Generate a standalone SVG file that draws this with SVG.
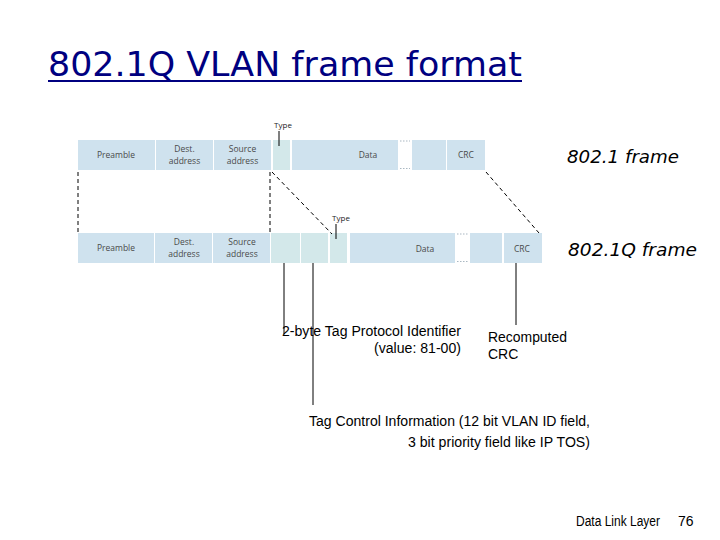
<svg xmlns="http://www.w3.org/2000/svg" width="720" height="540" viewBox="0 0 720 540">
<style>
.f{fill:#cfe2ee}
.g{fill:#d3e8ea}
.lb{font-family:"Open Sans","DejaVu Sans",sans-serif;font-size:8.5px;fill:#4a4a4a;text-anchor:middle}
.t{font-family:"Liberation Sans",Arial,sans-serif;font-size:14px;fill:#000}
.dash{stroke:#000;stroke-width:1;stroke-dasharray:4,3;fill:none}
.dot{stroke:#aab8c2;stroke-width:1.2;stroke-dasharray:1.5,1.5}
.ln{stroke:#000;stroke-width:1}
.fr{font-family:"DejaVu Sans",sans-serif;font-style:italic;font-size:17px;fill:#000}
</style>
<rect width="720" height="540" fill="#fff"/>
<g id="title">
<text x="48" y="76" font-family="'DejaVu Sans',sans-serif" font-size="33" fill="#000080" textLength="474" lengthAdjust="spacingAndGlyphs">802.1Q VLAN frame format</text>
<line x1="48" y1="81" x2="522" y2="81" stroke="#000080" stroke-width="2"/>
</g>
<g id="frame8021">
<rect class="f" x="78" y="140" width="77" height="30"/>
<text class="lb" x="116" y="158">Preamble</text>
<rect class="f" x="156" y="140" width="57" height="30"/>
<text class="lb" x="184.5" y="152">Dest.</text><text class="lb" x="184.5" y="164">address</text>
<rect class="f" x="214" y="140" width="57" height="30"/>
<text class="lb" x="242.5" y="152">Source</text><text class="lb" x="242.5" y="164">address</text>
<rect class="g" x="273" y="140" width="17" height="30"/>
<rect class="f" x="292" y="140" width="106" height="30"/>
<text class="lb" x="368" y="158">Data</text>
<line class="dot" x1="400" y1="141" x2="410" y2="141"/>
<line class="dot" x1="400" y1="168.5" x2="410" y2="168.5"/>
<rect class="f" x="412" y="140" width="34" height="30"/>
<rect class="f" x="447" y="140" width="38" height="30"/>
<text class="lb" x="466" y="158">CRC</text>
<text x="283" y="128" font-family="'Open Sans',sans-serif" font-size="8" fill="#222" text-anchor="middle">Type</text>
<line class="ln" x1="279" y1="131" x2="279" y2="146"/>
</g>
<g id="frame8021q">
<rect class="f" x="78" y="233" width="76" height="30"/>
<text class="lb" x="116" y="251">Preamble</text>
<rect class="f" x="155" y="233" width="57" height="30"/>
<text class="lb" x="184" y="245">Dest.</text><text class="lb" x="184" y="257">address</text>
<rect class="f" x="213" y="233" width="57" height="30"/>
<text class="lb" x="242" y="245">Source</text><text class="lb" x="242" y="257">address</text>
<rect class="g" x="271" y="233" width="29" height="30"/>
<rect class="g" x="301" y="233" width="27" height="30"/>
<rect class="g" x="330" y="233" width="17" height="30"/>
<rect class="f" x="350" y="233" width="105" height="30"/>
<text class="lb" x="425" y="252">Data</text>
<line class="dot" x1="457" y1="234" x2="468" y2="234"/>
<line class="dot" x1="457" y1="261.5" x2="468" y2="261.5"/>
<rect class="f" x="470" y="233" width="32" height="30"/>
<rect class="f" x="504" y="233" width="38" height="30"/>
<text class="lb" x="522" y="252">CRC</text>
<text x="341" y="221" font-family="'Open Sans',sans-serif" font-size="8" fill="#222" text-anchor="middle">Type</text>
<line class="ln" x1="336" y1="224" x2="336" y2="239"/>
</g>
<g id="connectors">
<line class="dash" x1="78" y1="172" x2="78" y2="233"/>
<line class="dash" x1="270" y1="172" x2="270" y2="233"/>
<line class="dash" x1="272" y1="172" x2="332" y2="234" stroke-dasharray="3,3"/>
<line class="dash" x1="486" y1="172" x2="539" y2="233" stroke-dasharray="3,3"/>
<line class="ln" x1="284" y1="263" x2="284" y2="334"/>
<line class="ln" x1="313" y1="263" x2="313" y2="405"/>
<line class="ln" x1="516" y1="263" x2="516" y2="325"/>
</g>
<g id="labels">
<text class="fr" x="567" y="163" textLength="112" lengthAdjust="spacingAndGlyphs">802.1 frame</text>
<text class="fr" x="568" y="256" textLength="129" lengthAdjust="spacingAndGlyphs">802.1Q frame</text>
<text class="t" x="282" y="336" textLength="179" lengthAdjust="spacingAndGlyphs">2-byte Tag Protocol Identifier</text>
<text class="t" x="374" y="353" textLength="87" lengthAdjust="spacingAndGlyphs">(value: 81-00)</text>
<text class="t" x="488" y="342" textLength="79" lengthAdjust="spacingAndGlyphs">Recomputed</text>
<text class="t" x="488" y="359">CRC</text>
<text class="t" x="309" y="426" textLength="281" lengthAdjust="spacingAndGlyphs">Tag Control Information (12 bit VLAN ID field,</text>
<text class="t" x="408" y="447" textLength="182" lengthAdjust="spacingAndGlyphs">3 bit priority field like IP TOS)</text>
<text class="t" x="576" y="526" font-size="12" textLength="84" lengthAdjust="spacingAndGlyphs">Data Link Layer</text>
<text class="t" x="678" y="526" font-size="12">76</text>
</g>
</svg>
